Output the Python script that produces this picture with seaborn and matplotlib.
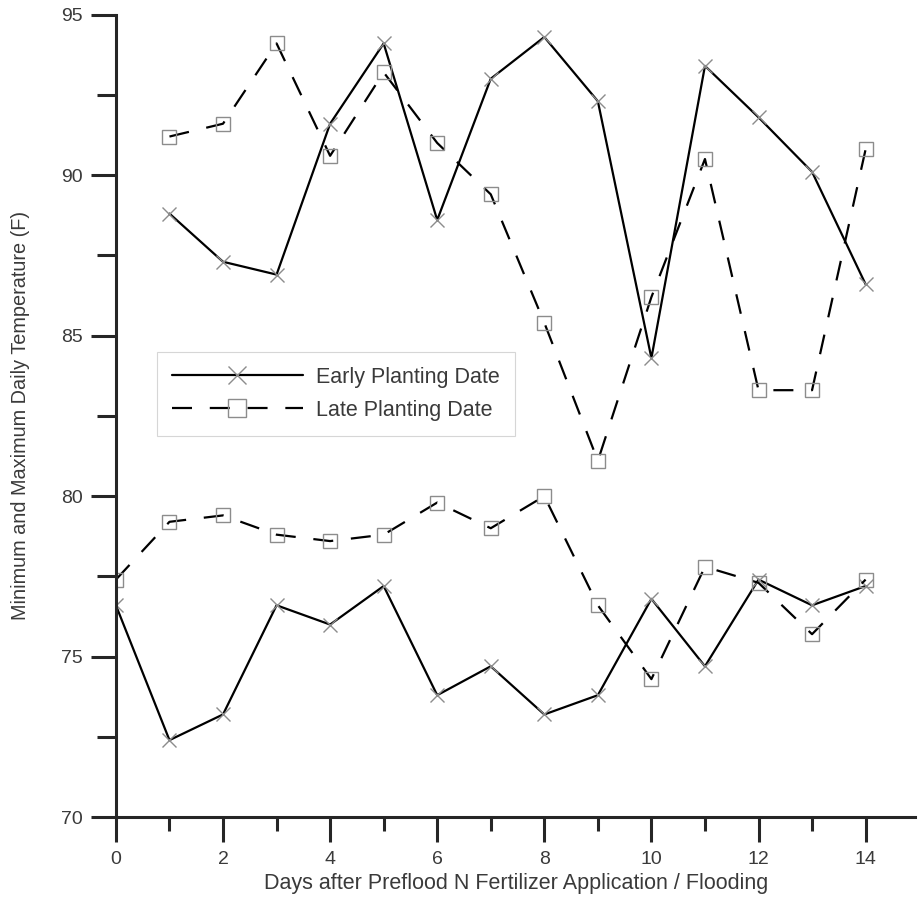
import matplotlib
matplotlib.use('Agg')
import matplotlib.pyplot as plt
import seaborn as sns
import pandas as pd
from matplotlib.lines import Line2D
from matplotlib.ticker import MultipleLocator

# days after preflood N application
days_high = list(range(1, 15))
days_low = list(range(0, 15))

# daily maximum temperatures (F)
early_high = [88.8, 87.3, 86.9, 91.6, 94.1, 88.6, 93.0, 94.3, 92.3, 84.3, 93.4, 91.8, 90.1, 86.6]
late_high = [91.2, 91.6, 94.1, 90.6, 93.2, 91.0, 89.4, 85.4, 81.1, 86.2, 90.5, 83.3, 83.3, 90.8]

# daily minimum temperatures (F)
early_low = [76.6, 72.4, 73.2, 76.6, 76.0, 77.2, 73.8, 74.7, 73.2, 73.8, 76.8, 74.7, 77.4, 76.6, 77.2]
late_low = [77.4, 79.2, 79.4, 78.8, 78.6, 78.8, 79.8, 79.0, 80.0, 76.6, 74.3, 77.8, 77.3, 75.7, 77.4]

series_labels = ['Early Planting Date', 'Late Planting Date']

sns.set_style('ticks')
plt.rcParams['font.family'] = ['Liberation Sans', 'DejaVu Sans']

fig = plt.figure(figsize=(9.2, 9.09), dpi=100)
ax = fig.add_axes([0.126, 0.101, 0.869, 0.883])

line_kw = dict(color='black', linewidth=1.6, markersize=10, markeredgewidth=1.0, markeredgecolor='#8c8c8c')
early_kw = dict(marker='x', **line_kw)
late_kw = dict(marker='s', markerfacecolor='none', dashes=(9, 8), **line_kw)

sns.lineplot(x=days_high, y=early_high, ax=ax, **early_kw)
sns.lineplot(x=days_low, y=early_low, ax=ax, **early_kw)
sns.lineplot(x=days_high, y=late_high, ax=ax, **late_kw)
sns.lineplot(x=days_low, y=late_low, ax=ax, **late_kw)

ax.set_xlim(0, 14.93)
ax.set_ylim(70, 95)
sns.despine(ax=ax)
ax.spines['left'].set_linewidth(2.2)
ax.spines['bottom'].set_linewidth(2.2)

ax.xaxis.set_major_locator(MultipleLocator(2))
ax.xaxis.set_minor_locator(MultipleLocator(1))
ax.yaxis.set_major_locator(MultipleLocator(5))
ax.yaxis.set_minor_locator(MultipleLocator(2.5))
ax.tick_params(which='major', length=18, width=2.2, labelsize=14, labelcolor='#3a3a3a', pad=6)
ax.tick_params(which='minor', length=10, width=2.2)
ax.tick_params(axis='y', which='minor', length=14)

ax.set_xlabel('Days after Preflood N Fertilizer Application / Flooding', fontsize=15.5, color='#3a3a3a', labelpad=4)
ax.set_ylabel('Minimum and Maximum Daily Temperature (F)', fontsize=14.3, color='#3a3a3a', labelpad=22)

handles = [
    Line2D([], [], **early_kw),
    Line2D([], [], **late_kw),
]
handles[0].set_markersize(13)
handles[1].set_markersize(13)
leg = ax.legend(handles, series_labels, loc='upper left', bbox_to_anchor=(0.051, 0.58),
                borderaxespad=0, fontsize=15.5, handlelength=6.1, handletextpad=0.6,
                frameon=True, fancybox=False, borderpad=0.7, labelspacing=0.55)
leg.get_frame().set_edgecolor('#cccccc')
leg.get_frame().set_linewidth(0.8)
for t in leg.get_texts():
    t.set_color('#3a3a3a')

fig.savefig('out.png', dpi=100)
